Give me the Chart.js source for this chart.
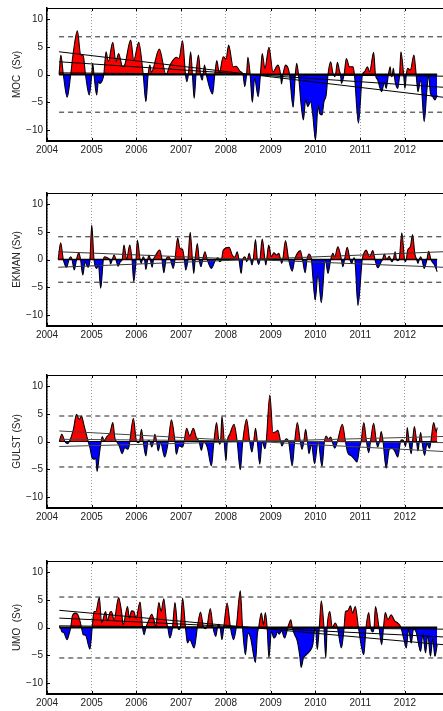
<!DOCTYPE html>
<html>
<head>
<meta charset="utf-8">
<script src="https://cdn.jsdelivr.net/npm/chart.js@4.4.1/dist/chart.umd.min.js"></script>
<style>
html, body { margin: 0; padding: 0; background: #fff; overflow: hidden; width: 443px; height: 711px; }
.panel { position: absolute; left: 0; width: 443px; height: 157px; }
</style>
</head>
<body>
<div class="panel" style="top:4px"><canvas id="chartMOC" width="443" height="157"></canvas></div>
<div class="panel" style="top:189px"><canvas id="chartEKMAN" width="443" height="157"></canvas></div>
<div class="panel" style="top:371px"><canvas id="chartGULST" width="443" height="157"></canvas></div>
<div class="panel" style="top:557px"><canvas id="chartUMO" width="443" height="157"></canvas></div>
<script>
var yearTicks = [2004, 2005, 2006, 2007, 2008, 2009, 2010, 2011, 2012];
var svTicks = [-10, -5, 0, 5, 10];
var xMin = 2004, xMax = 2012.85;

// MOC
var mocT = [2004.27, 2004.31, 2004.365, 2004.45, 2004.53, 2004.58, 2004.68, 2004.75, 2004.81, 2004.86,
    2004.945, 2005.0, 2005.02, 2005.05, 2005.11, 2005.15, 2005.18, 2005.24, 2005.27, 2005.32,
    2005.37, 2005.47, 2005.54, 2005.60, 2005.69, 2005.74, 2005.87, 2005.94, 2006.05, 2006.15,
    2006.21, 2006.26, 2006.30, 2006.33, 2006.51, 2006.66, 2006.75, 2006.89, 2006.95, 2007.03,
    2007.095, 2007.125, 2007.16, 2007.21, 2007.25, 2007.29, 2007.33, 2007.385, 2007.43, 2007.47,
    2007.49, 2007.52, 2007.56, 2007.70, 2007.75, 2007.795, 2007.85, 2007.94, 2008.0, 2008.06,
    2008.16, 2008.23, 2008.31, 2008.38, 2008.42, 2008.46, 2008.49, 2008.54, 2008.59, 2008.64,
    2008.72, 2008.77, 2008.81, 2008.87, 2008.96, 2009.05, 2009.16, 2009.22, 2009.24, 2009.275,
    2009.33, 2009.39, 2009.42, 2009.50, 2009.55, 2009.58, 2009.62, 2009.68, 2009.73, 2009.78,
    2009.83, 2009.89, 2009.94, 2010.00, 2010.06, 2010.09, 2010.145, 2010.19, 2010.24, 2010.28,
    2010.34, 2010.39, 2010.41, 2010.43, 2010.45, 2010.49, 2010.54, 2010.56, 2010.58, 2010.64,
    2010.69, 2010.76, 2010.84, 2010.87, 2010.96, 2011.05, 2011.10, 2011.16, 2011.21, 2011.30,
    2011.34, 2011.39, 2011.48, 2011.54, 2011.58, 2011.63, 2011.67, 2011.69, 2011.71, 2011.72,
    2011.74, 2011.76, 2011.78, 2011.84, 2011.88, 2011.91, 2011.97, 2012.00, 2012.03, 2012.06,
    2012.12, 2012.20, 2012.25, 2012.29, 2012.35, 2012.43, 2012.49, 2012.53, 2012.57, 2012.62,
    2012.67, 2012.72];
var mocV = [0, 3.5, 0, -4.1, 0, 3.5, 7.9, 3.6, 3.4, 0,
    -3.7, 0, 2.0, 0, -3.7, -1.2, -1.6, -1.0, 0, 4.1,
    2.3, 5.8, 2.3, 3.8, 1.4, 1.8, 6.2, 2.6, 5.8, 0,
    -4.9, 0, 1.7, 0.4, 4.6, 0, 1.7, 3.1, 2.9, 6.1,
    0, -1.3, 0, 4.1, 0, -4.3, 0, 3.5, 0, -1.0,
    0, 1.7, 0, -3.5, 0, 2.5, 0.3, 3.2, 2.8, 5.3,
    1.4, 1.5, 0.6, 0, -2.2, 0, 3.1, 0, -5.0, -0.7,
    -4.0, 0, 3.8, 1.1, 4.9, 0.5, 1.7, 0, -1.7, 0,
    1.7, 1.1, 0, -5.9, 0, 2.0, 0, -5.5, -8.2, -4.6,
    -5.8, -4.9, -7.3, -11.8, -5.5, -7.0, -7.3, -4.9, -3.7, 0,
    2.3, 0.2, 0, -0.4, 0, 2.2, 0.5, 0, -1.6, 0,
    2.9, 1.4, 1.4, 0, -8.8, 0, 0.5, 1.4, 0.5, 4.0,
    0, -1.0, -3.1, -1.4, -2.5, 0, 1.4, 0, -0.4, 0,
    1.1, 0, -1.3, -2.5, 0, 4.1, 0, -2.5, 0, 1.1,
    0.8, 3.5, 0, -3.1, -1.0, -8.5, -2.8, -0.1, -3.4, -4.0,
    -4.6, -3.7];
var mocSd = 6.8;
var mocTrendStart = [4.1, 2.3, 0.3];
var mocTrendEnd = [-4.1, -2.3, -0.3];

// EKMAN
var ekmT = [2004.25, 2004.305, 2004.365, 2004.44, 2004.49, 2004.53, 2004.56, 2004.61, 2004.66, 2004.71,
    2004.75, 2004.80, 2004.85, 2004.885, 2004.92, 2004.96, 2005.00, 2005.05, 2005.11, 2005.15,
    2005.20, 2005.26, 2005.29, 2005.37, 2005.40, 2005.42, 2005.46, 2005.50, 2005.54, 2005.59,
    2005.64, 2005.68, 2005.72, 2005.78, 2005.85, 2005.90, 2005.94, 2005.99, 2006.02, 2006.08,
    2006.11, 2006.13, 2006.15, 2006.18, 2006.21, 2006.25, 2006.28, 2006.31, 2006.35, 2006.38,
    2006.41, 2006.52, 2006.57, 2006.61, 2006.66, 2006.71, 2006.76, 2006.82, 2006.86, 2006.92,
    2006.97, 2007.03, 2007.07, 2007.10, 2007.15, 2007.20, 2007.25, 2007.28, 2007.31, 2007.36,
    2007.40, 2007.44, 2007.48, 2007.53, 2007.58, 2007.675, 2007.77, 2007.82, 2007.86, 2007.90,
    2007.94, 2008.07, 2008.14, 2008.20, 2008.25, 2008.29, 2008.34, 2008.375, 2008.42, 2008.45,
    2008.46, 2008.48, 2008.52, 2008.55, 2008.58, 2008.61, 2008.66, 2008.70, 2008.73, 2008.76,
    2008.81, 2008.87, 2008.89, 2008.91, 2008.955, 2009.015, 2009.07, 2009.13, 2009.18, 2009.22,
    2009.245, 2009.27, 2009.33, 2009.40, 2009.48, 2009.535, 2009.595, 2009.66, 2009.71, 2009.77,
    2009.81, 2009.855, 2009.91, 2009.94, 2009.995, 2010.055, 2010.13, 2010.22, 2010.28, 2010.34,
    2010.39, 2010.43, 2010.50, 2010.58, 2010.61, 2010.65, 2010.71, 2010.77, 2010.81, 2010.84,
    2010.86, 2010.88, 2010.95, 2011.045, 2011.08, 2011.13, 2011.21, 2011.28, 2011.33, 2011.39,
    2011.47, 2011.50, 2011.54, 2011.59, 2011.65, 2011.68, 2011.71, 2011.74, 2011.78, 2011.81,
    2011.84, 2011.87, 2011.93, 2011.99, 2012.01, 2012.03, 2012.06, 2012.12, 2012.17, 2012.22,
    2012.26, 2012.29, 2012.32, 2012.35, 2012.38, 2012.43, 2012.49, 2012.53, 2012.58, 2012.66,
    2012.72];
var ekmV = [0, 3.0, 0, -1.4, 0, 0.5, 0, -1.9, 0, 1.2,
    0, -2.8, -0.4, -1.0, -1.4, 0, 6.2, 0, -1.6, -1.0,
    -5.2, 0, 0.5, 0.2, 0, -0.8, 0, 0.8, 0, -1.2,
    -0.4, 0, 2.6, 0.1, 2.6, 0, -4.0, 0, 3.5, 0,
    -0.7, 0, 0.5, 0, -1.8, 0, 0.8, 0, -1.4, 0,
    0.5, 1.7, 0, -2.4, 0, 0.5, 0, -1.6, 0, 3.9,
    2.0, 1.8, 0, -1.9, 0, 4.9, 0, -2.5, 0, 2.9,
    0, -1.3, 0, 1.4, 0, -1.6, 0, 0.3, -0.4, 0,
    1.7, 2.2, 0.8, 0.4, 1.4, 0, -2.5, 0, 0.5, 0,
    -0.4, 0, 1.1, 0, -1.0, 0, 3.6, 0, -0.9, 0,
    3.7, 0, -1.0, 0, 2.6, 0.5, 1.2, 0.8, 1.1, 0,
    -0.7, 0, 3.4, 0, -2.1, 0, 1.1, 1.6, 0, -2.4,
    0, 1.0, 0, -3.0, -7.3, -2.6, -7.8, 0, -2.5, 0,
    1.1, 0.5, 2.3, 0, -1.3, 0, 2.2, 0, -0.7, 0,
    0.3, 0, -8.3, 0, 1.1, 1.7, 0.5, 1.6, 0, -1.5,
    -0.4, 0, 1.0, 0, 0.6, 0, -0.4, 0, 1.4, 0,
    -0.2, 0, 4.8, 0, -0.4, 0, 1.7, 2.3, 4.5, 1.1,
    0, -0.7, 0, 0.5, 0, -1.6, 0, 1.5, 0, -1.0,
    -2.2];
var ekmSd = 4.1;
var ekmTrendStart = [1.4, -1.4];
var ekmTrendEnd = [-1.4, 1.4];

// GULST
var gulT = [2004.275, 2004.33, 2004.40, 2004.45, 2004.50, 2004.59, 2004.66, 2004.72, 2004.77, 2004.83,
    2004.92, 2004.96, 2005.01, 2005.06, 2005.09, 2005.12, 2005.17, 2005.21, 2005.235, 2005.28,
    2005.33, 2005.41, 2005.47, 2005.52, 2005.555, 2005.615, 2005.68, 2005.74, 2005.80, 2005.83,
    2005.85, 2005.93, 2006.00, 2006.04, 2006.07, 2006.11, 2006.15, 2006.21, 2006.26, 2006.30,
    2006.34, 2006.38, 2006.41, 2006.45, 2006.485, 2006.54, 2006.63, 2006.71, 2006.78, 2006.86,
    2006.89, 2006.95, 2007.03, 2007.065, 2007.12, 2007.19, 2007.27, 2007.34, 2007.40, 2007.45,
    2007.50, 2007.58, 2007.675, 2007.73, 2007.79, 2007.84, 2007.86, 2007.88, 2007.91, 2007.96,
    2008.00, 2008.03, 2008.085, 2008.18, 2008.25, 2008.32, 2008.375, 2008.46, 2008.53, 2008.58,
    2008.62, 2008.66, 2008.70, 2008.755, 2008.81, 2008.87, 2008.90, 2008.98, 2009.05, 2009.10,
    2009.16, 2009.22, 2009.25, 2009.30, 2009.35, 2009.40, 2009.48, 2009.535, 2009.595, 2009.66,
    2009.70, 2009.74, 2009.78, 2009.82, 2009.855, 2009.91, 2009.98, 2010.06, 2010.145, 2010.20,
    2010.24, 2010.29, 2010.34, 2010.375, 2010.43, 2010.49, 2010.60, 2010.67, 2010.72, 2010.80,
    2010.87, 2010.93, 2010.985, 2011.02, 2011.08, 2011.14, 2011.19, 2011.23, 2011.30, 2011.36,
    2011.39, 2011.43, 2011.47, 2011.51, 2011.58, 2011.65, 2011.71, 2011.77, 2011.84, 2011.90,
    2011.93, 2011.98, 2012.01, 2012.03, 2012.05, 2012.09, 2012.14, 2012.17, 2012.21, 2012.26,
    2012.29, 2012.32, 2012.35, 2012.38, 2012.44, 2012.49, 2012.55, 2012.58, 2012.64, 2012.70,
    2012.72];
var gulV = [0, 1.3, 0, -0.4, 0, 2.2, 4.9, 4.0, 4.6, 2.8,
    0, -1.1, -3.0, -3.2, -3.0, -5.4, -2.3, 0, 0.9, 0.1,
    0.8, 1.6, 3.4, 0.5, 0, -0.8, -2.2, -1.1, -1.4, -1.0,
    0, 4.2, 0, -0.2, 0, 2.2, 0, -2.6, 0.2, 0,
    -1.0, 0, 1.3, 0, -1.7, -0.2, -2.8, 0, 3.9, 0,
    -2.3, -0.8, -1.0, 0, 2.4, 1.0, 2.4, 0.7, 0, -1.6,
    -0.1, -1.0, -4.4, 0, 3.4, 0, -0.5, 0, 4.5, 0,
    -3.5, 0, 1.3, 3.1, 0, -5.1, 0, 4.0, 0, -1.9,
    0, 2.4, 0, -4.1, 0, -1.3, 0, 8.4, 1.6, 1.7,
    2.0, 0, -0.8, 0, 0.5, 0, -4.4, 0, 3.4, 0,
    -1.4, 0, 2.2, 0, -2.2, -0.5, -4.0, 0, -4.5, 0,
    1.0, 0.4, 0.8, 0, -1.2, 0, 3.1, 0, -2.0, -2.6,
    -3.2, -3.7, -1.1, 0, 3.4, 0, -2.0, 0, 3.3, 0,
    -1.0, 0, 1.8, 0, -4.8, -1.4, -1.2, -1.7, -2.8, 0,
    0.3, 0, -0.9, 0, 2.5, 0, -2.2, 0, 2.7, 0,
    -1.7, 0, 1.6, 0, -2.5, -0.4, -1.2, 0, 3.4, 1.7,
    2.5];
var gulSd = 4.6;
var gulTrendStart = [1.9, 0.4, -0.9];
var gulTrendEnd = [-1.8, -0.2, 0.9];

// UMO
var umoT = [2004.275, 2004.30, 2004.33, 2004.38, 2004.45, 2004.50, 2004.53, 2004.565, 2004.625, 2004.68,
    2004.74, 2004.77, 2004.81, 2004.86, 2004.96, 2005.01, 2005.05, 2005.09, 2005.17, 2005.22,
    2005.31, 2005.35, 2005.41, 2005.44, 2005.50, 2005.60, 2005.67, 2005.70, 2005.80, 2005.84,
    2005.89, 2005.94, 2005.99, 2006.08, 2006.135, 2006.17, 2006.21, 2006.28, 2006.34, 2006.39,
    2006.43, 2006.50, 2006.55, 2006.61, 2006.67, 2006.70, 2006.745, 2006.805, 2006.86, 2006.92,
    2006.95, 2006.98, 2007.03, 2007.095, 2007.14, 2007.19, 2007.29, 2007.36, 2007.43, 2007.50,
    2007.54, 2007.57, 2007.65, 2007.71, 2007.77, 2007.81, 2007.84, 2007.87, 2007.91, 2007.95,
    2008.025, 2008.10, 2008.17, 2008.23, 2008.32, 2008.37, 2008.435, 2008.49, 2008.55, 2008.66,
    2008.70, 2008.73, 2008.79, 2008.84, 2008.88, 2008.92, 2008.96, 2009.015, 2009.07, 2009.11,
    2009.15, 2009.19, 2009.24, 2009.31, 2009.37, 2009.40, 2009.45, 2009.48, 2009.535, 2009.595,
    2009.65, 2009.68, 2009.73, 2009.80, 2009.87, 2009.94, 2009.98, 2010.00, 2010.04, 2010.085,
    2010.13, 2010.19, 2010.23, 2010.26, 2010.32, 2010.375, 2010.44, 2010.49, 2010.58, 2010.64,
    2010.67, 2010.72, 2010.78, 2010.83, 2010.89, 2010.96, 2011.08, 2011.13, 2011.19, 2011.23,
    2011.28, 2011.31, 2011.34, 2011.42, 2011.48, 2011.52, 2011.56, 2011.62, 2011.69, 2011.77,
    2011.84, 2011.91, 2011.97, 2012.03, 2012.08, 2012.14, 2012.19, 2012.25, 2012.35, 2012.40,
    2012.46, 2012.51, 2012.57, 2012.62, 2012.67, 2012.72];
var umoV = [0.3, 0, -0.7, -1.0, -2.2, -1.0, 0, 2.0, 2.6, 2.4,
    1.1, 0, -1.3, -1.4, -3.9, 0, 2.9, 2.9, 5.4, 0.8,
    2.9, 1.2, 2.8, 2.9, 1.4, 5.4, 2.6, 0.5, 3.8, 1.7,
    3.0, 2.9, 1.7, 4.6, 0, -1.3, 0, 1.4, 2.4, 1.4,
    0.2, 4.5, 2.9, 5.2, 1.1, 0, -1.9, 0, 4.5, 0,
    -0.4, 0, 5.3, 0, -2.8, -2.2, -3.7, 0, 2.8, 0,
    -0.2, 0, 3.4, 0, -1.6, 0, 0.6, 0, -2.2, 0,
    4.4, 0, -2.2, 0, 6.6, 0, -4.9, -1.0, -1.9, -6.3,
    -1.3, 0, 2.6, 0.5, 2.7, 0, -5.4, -0.7, -1.9, -1.6,
    -0.8, -1.2, -0.6, -1.9, -0.4, 0.5, 1.4, 0, -1.3, -2.5,
    -5.2, -7.2, -5.5, -4.9, -4.3, -3.1, -0.4, 0, -4.0, 0,
    4.8, 0, -5.5, 0, 2.9, 0, 0.8, 0, -3.7, 0,
    2.9, 3.0, 3.9, 2.6, 3.8, 0, -4.9, 0, 2.7, 0,
    -0.8, 0, 3.8, 0, -3.1, 0, 2.7, 1.4, 2.3, 1.2,
    0.8, 0, -1.9, -3.7, -0.3, -2.8, -0.3, -0.8, -4.3, -1.2,
    -4.6, -1.3, -5.2, -2.0, -5.2, -3.1];
var umoSd = 5.5;
var umoTrendStart = [3.1, 1.7, 0.3];
var umoTrendEnd = [-3.1, -1.7, -0.3];

// frame: top line plus small inward ticks, like the original axes box
var boxPlugin = {
    id: 'boxTop',
    afterDraw: function (chart) {
        var a = chart.chartArea, ctx = chart.ctx;
        var xs = chart.scales.x, ys = chart.scales.y;
        ctx.save();
        ctx.strokeStyle = '#000';
        ctx.lineWidth = 1;
        ctx.beginPath();
        ctx.moveTo(a.left, a.top + 0.5);
        ctx.lineTo(a.right, a.top + 0.5);
        $each(yearTicks, function (v) {
            var px = Math.round(xs.getPixelForValue(v)) + 0.5;
            ctx.moveTo(px, a.top);
            ctx.lineTo(px, a.top + 3);
            ctx.moveTo(px, a.bottom);
            ctx.lineTo(px, a.bottom - 3);
        });
        $each(svTicks, function (v) {
            var py = Math.round(ys.getPixelForValue(v)) + 0.5;
            ctx.moveTo(a.left, py);
            ctx.lineTo(a.left + 3, py);
        });
        ctx.stroke();
        ctx.restore();
    }
};

function $each(arr, fn) {
    for (var i = 0; i < arr.length; i++) fn(arr[i], i);
}

function pairs(t, v) {
    var out = [];
    $each(t, function (x, i) { out.push({ x: x, y: v[i] }); });
    return out;
}

function straight(x0, y0, x1, y1, opts) {
    var ds = {
        data: [{ x: x0, y: y0 }, { x: x1, y: y1 }],
        borderColor: '#000',
        borderWidth: 1,
        pointRadius: 0,
        fill: false,
        order: 1
    };
    for (var k in opts) ds[k] = opts[k];
    return ds;
}

function createPanel(canvasId, title, t, v, sd, trendStart, trendEnd, trendColor, zeroWidth) {
    var t0 = t[0], t1 = t[t.length - 1];
    var datasets = [];

    datasets.push(straight(t0, sd, xMax, sd, { borderDash: [5, 4], borderColor: '#222' }));
    datasets.push(straight(t0, -sd, xMax, -sd, { borderDash: [5, 4], borderColor: '#222' }));
    datasets.push(straight(t0, 0, t1, 0, { borderWidth: zeroWidth, order: 2 }));
    $each(trendStart, function (s, i) {
        datasets.push(straight(t0, s, xMax, trendEnd[i], { borderColor: trendColor }));
    });

    datasets.push({
        data: pairs(t, v),
        borderColor: '#000',
        borderWidth: 1.1,
        pointRadius: 0,
        cubicInterpolationMode: 'monotone',
        fill: { target: 'origin', above: '#ff0000', below: '#0000ff' },
        order: 5
    });

    var ctx = document.getElementById(canvasId);
    var myChart = new Chart(ctx, {
        type: 'line',
        data: { datasets: datasets },
        plugins: [boxPlugin],
        options: {
            responsive: false,
            animation: false,
            layout: { padding: { top: 4, right: 0, left: 0, bottom: 0 } },
            plugins: {
                legend: { display: false },
                tooltip: { enabled: false }
            },
            scales: {
                x: {
                    type: 'linear',
                    min: xMin,
                    max: xMax,
                    afterBuildTicks: function (ax) {
                        ax.ticks = yearTicks.map(function (y) { return { value: y }; });
                    },
                    afterFit: function (ax) {
                        ax.height = 20;
                        ax.paddingLeft = 0;
                        ax.paddingRight = 0;
                    },
                    ticks: {
                        autoSkip: false,
                        maxRotation: 0,
                        padding: 3,
                        color: '#222',
                        font: { family: '"Liberation Sans", Arial, sans-serif', size: 10 },
                        callback: function (val) { return String(val); }
                    },
                    grid: { color: '#9a9a9a', lineWidth: 1, drawTicks: false },
                    border: { display: true, color: '#000', width: 2, dash: [1, 2] }
                },
                y: {
                    type: 'linear',
                    min: -12,
                    max: 12,
                    afterBuildTicks: function (ax) {
                        ax.ticks = svTicks.map(function (s) { return { value: s }; });
                    },
                    afterFit: function (ax) {
                        ax.width = 47;
                        ax.paddingTop = 0;
                        ax.paddingBottom = 0;
                    },
                    ticks: {
                        padding: 4,
                        color: '#222',
                        font: { family: '"Liberation Sans", Arial, sans-serif', size: 10 },
                        callback: function (val) { return String(val).replace('-', '\u2212'); }
                    },
                    grid: { display: false, drawTicks: false },
                    border: { display: true, color: '#000', width: 1.5 },
                    title: {
                        display: true,
                        text: title,
                        color: '#222',
                        font: { family: '"Liberation Sans", Arial, sans-serif', size: 10 },
                        padding: { top: 11, bottom: 0 }
                    }
                }
            }
        }
    });
    return myChart;
}

createPanel('chartMOC', 'MOC  (Sv)', mocT, mocV, mocSd, mocTrendStart, mocTrendEnd, '#000', 2);
createPanel('chartEKMAN', 'EKMAN (Sv)', ekmT, ekmV, ekmSd, ekmTrendStart, ekmTrendEnd, '#333', 1.5);
createPanel('chartGULST', 'GULST (Sv)', gulT, gulV, gulSd, gulTrendStart, gulTrendEnd, '#444', 1.2);
createPanel('chartUMO', 'UMO  (Sv)', umoT, umoV, umoSd, umoTrendStart, umoTrendEnd, '#000', 2);
</script>
</body>
</html>
